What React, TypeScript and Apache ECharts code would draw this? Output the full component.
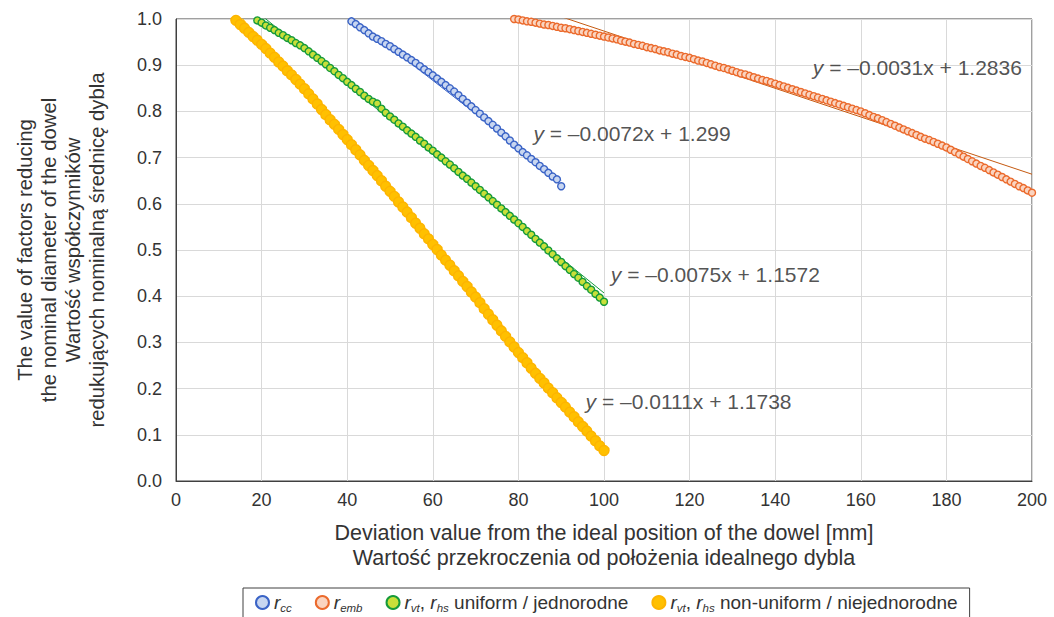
import React, { useEffect, useRef } from "react";
import * as echarts from "echarts";

const FONT = "'Liberation Sans', Arial, sans-serif";

// r_cc
const rcc: [number, number][] = [
  [41, 0.995], [42, 0.989], [43, 0.982], [44, 0.976], [45, 0.969], [46, 0.962], [47, 0.957], [48, 0.952], [49, 0.946], [50, 0.941],
  [51, 0.935], [52, 0.929], [53, 0.923], [54, 0.917], [55, 0.911], [56, 0.905], [57, 0.898], [58, 0.891], [59, 0.885], [60, 0.878],
  [61, 0.871], [62, 0.864], [63, 0.857], [64, 0.85], [65, 0.843], [66, 0.835], [67, 0.827], [68, 0.819], [69, 0.811], [70, 0.803],
  [71, 0.795], [72, 0.787], [73, 0.779], [74, 0.771], [75, 0.763], [76, 0.754], [77, 0.746], [78, 0.737], [79, 0.728], [80, 0.72],
  [81, 0.712], [82, 0.705], [83, 0.697], [84, 0.69], [85, 0.682], [86, 0.675], [87, 0.667], [88, 0.659], [89, 0.653], [90, 0.638],
];

// r_emb
const remb: [number, number][] = [
  [79, 1.0], [80, 0.999], [81, 0.997], [82, 0.995], [83, 0.994], [84, 0.992], [85, 0.99], [86, 0.988], [87, 0.987], [88, 0.985],
  [89, 0.983], [90, 0.981], [91, 0.98], [92, 0.978], [93, 0.976], [94, 0.974], [95, 0.972], [96, 0.97], [97, 0.968], [98, 0.966],
  [99, 0.964], [100, 0.962], [101, 0.96], [102, 0.958], [103, 0.956], [104, 0.953], [105, 0.951], [106, 0.949], [107, 0.946], [108, 0.944],
  [109, 0.942], [110, 0.939], [111, 0.937], [112, 0.935], [113, 0.932], [114, 0.93], [115, 0.928], [116, 0.925], [117, 0.923], [118, 0.92],
  [119, 0.918], [120, 0.916], [121, 0.913], [122, 0.91], [123, 0.908], [124, 0.905], [125, 0.902], [126, 0.899], [127, 0.896], [128, 0.894],
  [129, 0.891], [130, 0.888], [131, 0.885], [132, 0.882], [133, 0.88], [134, 0.877], [135, 0.874], [136, 0.871], [137, 0.868], [138, 0.866],
  [139, 0.863], [140, 0.86], [141, 0.857], [142, 0.854], [143, 0.851], [144, 0.848], [145, 0.845], [146, 0.842], [147, 0.839], [148, 0.836],
  [149, 0.833], [150, 0.83], [151, 0.827], [152, 0.824], [153, 0.821], [154, 0.818], [155, 0.815], [156, 0.812], [157, 0.809], [158, 0.806],
  [159, 0.803], [160, 0.8], [161, 0.796], [162, 0.792], [163, 0.788], [164, 0.785], [165, 0.781], [166, 0.777], [167, 0.773], [168, 0.769],
  [169, 0.765], [170, 0.761], [171, 0.757], [172, 0.753], [173, 0.749], [174, 0.745], [175, 0.741], [176, 0.738], [177, 0.734], [178, 0.73],
  [179, 0.726], [180, 0.722], [181, 0.717], [182, 0.712], [183, 0.707], [184, 0.702], [185, 0.697], [186, 0.692], [187, 0.687], [188, 0.682],
  [189, 0.678], [190, 0.673], [191, 0.668], [192, 0.663], [193, 0.658], [194, 0.653], [195, 0.648], [196, 0.643], [197, 0.638], [198, 0.634],
  [199, 0.629], [200, 0.624],
];

// r_vt, r_hs uniform
const runi: [number, number][] = [
  [19, 0.997], [20, 0.992], [21, 0.986], [22, 0.981], [23, 0.976], [24, 0.97], [25, 0.965], [26, 0.959], [27, 0.954], [28, 0.948],
  [29, 0.943], [30, 0.937], [31, 0.93], [32, 0.923], [33, 0.916], [34, 0.909], [35, 0.902], [36, 0.894], [37, 0.887], [38, 0.879],
  [39, 0.872], [40, 0.864], [41, 0.857], [42, 0.849], [43, 0.842], [44, 0.834], [45, 0.827], [46, 0.821], [47, 0.817], [48, 0.806],
  [49, 0.797], [50, 0.789], [51, 0.782], [52, 0.774], [53, 0.767], [54, 0.759], [55, 0.752], [56, 0.745], [57, 0.737], [58, 0.73],
  [59, 0.722], [60, 0.715], [61, 0.707], [62, 0.7], [63, 0.692], [64, 0.685], [65, 0.677], [66, 0.669], [67, 0.661], [68, 0.654],
  [69, 0.646], [70, 0.638], [71, 0.63], [72, 0.622], [73, 0.614], [74, 0.606], [75, 0.598], [76, 0.59], [77, 0.582], [78, 0.574],
  [79, 0.566], [80, 0.558], [81, 0.55], [82, 0.541], [83, 0.533], [84, 0.524], [85, 0.516], [86, 0.508], [87, 0.499], [88, 0.491],
  [89, 0.482], [90, 0.474], [91, 0.465], [92, 0.457], [93, 0.448], [94, 0.44], [95, 0.431], [96, 0.422], [97, 0.414], [98, 0.405],
  [99, 0.397], [100, 0.388],
];

// r_vt, r_hs non-uniform
const rnon: [number, number][] = [
  [14, 0.997], [15, 0.988], [16, 0.98], [17, 0.971], [18, 0.962], [19, 0.954], [20, 0.945], [21, 0.936], [22, 0.926], [23, 0.917],
  [24, 0.907], [25, 0.898], [26, 0.888], [27, 0.879], [28, 0.869], [29, 0.859], [30, 0.849], [31, 0.838], [32, 0.827], [33, 0.816],
  [34, 0.804], [35, 0.793], [36, 0.782], [37, 0.772], [38, 0.761], [39, 0.75], [40, 0.739], [41, 0.728], [42, 0.717], [43, 0.706],
  [44, 0.694], [45, 0.683], [46, 0.672], [47, 0.661], [48, 0.65], [49, 0.638], [50, 0.627], [51, 0.616], [52, 0.604], [53, 0.593],
  [54, 0.582], [55, 0.57], [56, 0.558], [57, 0.547], [58, 0.535], [59, 0.524], [60, 0.512], [61, 0.501], [62, 0.489], [63, 0.478],
  [64, 0.467], [65, 0.455], [66, 0.444], [67, 0.432], [68, 0.421], [69, 0.409], [70, 0.398], [71, 0.386], [72, 0.373], [73, 0.361],
  [74, 0.349], [75, 0.337], [76, 0.325], [77, 0.313], [78, 0.301], [79, 0.29], [80, 0.278], [81, 0.267], [82, 0.256], [83, 0.244],
  [84, 0.233], [85, 0.222], [86, 0.212], [87, 0.201], [88, 0.191], [89, 0.18], [90, 0.17], [91, 0.16], [92, 0.149], [93, 0.139],
  [94, 0.128], [95, 0.118], [96, 0.108], [97, 0.097], [98, 0.087], [99, 0.076], [100, 0.066],
];

// linear trend lines (endpoints over each series' range)
const trendCC: [number, number][] = [[41, 1.004], [90, 0.651]];
const trendEmb: [number, number][] = [[79, 1.039], [200, 0.664]];
const trendUni: [number, number][] = [[19, 1.015], [100, 0.407]];
const trendNon: [number, number][] = [[14, 1.018], [100, 0.064]];

const equations = [
  "y = –0.0072x + 1.299",
  "y = –0.0031x + 1.2836",
  "y = –0.0075x + 1.1572",
  "y = –0.0111x + 1.1738",
];
const equationAnchors: [number, number][] = [[83.5, 0.753], [148.8, 0.894], [101.6, 0.446], [95.7, 0.171]];

const xTitle = ["Deviation value from the ideal position of the dowel [mm]", "Wartość przekroczenia od położenia idealnego dybla"];
const yTitle = [
  "The value of factors reducing",
  "the nominal diameter of the dowel",
  "Wartość współczynników",
  "redukujących nominalną średnicę dybla",
];

const legendLabels: Record<string, string> = {
  rcc: "{i|r}{s|cc}",
  remb: "{i|r}{s|emb}",
  runi: "{i|r}{s|vt}{t|, }{i|r}{s|hs}{t| uniform / jednorodne}",
  rnon: "{i|r}{s|vt}{t|, }{i|r}{s|hs}{t| non-uniform / niejednorodne}",
};

const styles = {
  rcc: { fill: "#C8D6F0", border: "#3A63C6", size: 7, trend: "#3A63C6" },
  remb: { fill: "#FAD4C0", border: "#EB6A2C", size: 7, trend: "#C55A11" },
  runi: { fill: "#C9DF3A", border: "#159A3A", size: 7, trend: "#159A3A" },
  rnon: { fill: "#FFC000", border: "#FDB400", size: 10, trend: "#FFC000" },
};

const TEXT = "#333333";

export default function App() {
  const ref = useRef<HTMLDivElement>(null);
  useEffect(() => {
    document.body.style.margin = "0";
    if (!ref.current) return;
    const chart = echarts.init(ref.current, undefined, { renderer: "svg" });

    const scatter = (name: string, data: [number, number][], st: any) => ({
      name,
      type: "scatter",
      data,
      symbol: "circle",
      symbolSize: st.size,
      itemStyle: { color: st.fill, borderColor: st.border, borderWidth: 1.4, opacity: 1 },
      z: 3,
    });
    const trend = (data: [number, number][], color: string) => ({
      type: "line",
      data,
      symbol: "none",
      lineStyle: { color, width: 1 },
      silent: true,
      clip: true,
      z: 2,
    });

    chart.setOption({
      animation: false,
      textStyle: { fontFamily: FONT },
      grid: {
        left: 176,
        right: 22,
        top: 19,
        bottom: 136,
        show: true,
        borderColor: "#404040",
        borderWidth: 1,
        containLabel: false,
      },
      xAxis: {
        type: "value",
        min: 0,
        max: 200,
        interval: 20,
        axisLine: { show: true, lineStyle: { color: "#404040", width: 1 } },
        axisTick: { show: false },
        axisLabel: { fontSize: 18, color: TEXT, margin: 10, fontFamily: FONT },
        splitLine: { show: true, lineStyle: { color: "#D9D9D9", width: 1 } },
        name: xTitle.join("\n"),
        nameLocation: "middle",
        nameGap: 39,
        nameTextStyle: { fontSize: 21.5, lineHeight: 25, color: TEXT, fontFamily: FONT },
      },
      yAxis: {
        type: "value",
        min: 0,
        max: 1,
        interval: 0.1,
        axisLine: { show: true, lineStyle: { color: "#404040", width: 1 } },
        axisTick: { show: false },
        axisLabel: {
          fontSize: 18,
          color: TEXT,
          margin: 14,
          fontFamily: FONT,
          formatter: (v: number) => v.toFixed(1),
        },
        splitLine: { show: true, lineStyle: { color: "#D9D9D9", width: 1 } },
        name: yTitle.join("\n"),
        nameLocation: "middle",
        nameRotate: 90,
        nameGap: 67,
        nameTextStyle: { fontSize: 20.3, lineHeight: 24, color: TEXT, fontFamily: FONT },
      },
      legend: {
        data: ["rcc", "remb", "runi", "rnon"],
        left: 243,
        top: 588,
        padding: [5, 12, 14, 12],
        borderColor: "#404040",
        borderWidth: 1,
        icon: "circle",
        itemWidth: 13,
        itemHeight: 13,
        itemGap: 23,
        formatter: (name: string) => legendLabels[name],
        textStyle: {
          fontSize: 19,
          color: TEXT,
          fontFamily: FONT,
          rich: {
            t: { fontSize: 19, color: TEXT, fontFamily: FONT, lineHeight: 22 },
            i: { fontSize: 19, fontStyle: "italic", color: TEXT, fontFamily: FONT, lineHeight: 22 },
            s: { fontSize: 11.5, fontStyle: "italic", color: TEXT, fontFamily: FONT, lineHeight: 12, verticalAlign: "bottom" },
          },
        },
      },
      series: [
        trend(trendCC, styles.rcc.trend),
        trend(trendEmb, styles.remb.trend),
        trend(trendUni, styles.runi.trend),
        trend(trendNon, styles.rnon.trend),
        scatter("rcc", rcc, styles.rcc),
        scatter("remb", remb, styles.remb),
        scatter("runi", runi, styles.runi),
        scatter("rnon", rnon, styles.rnon),
        {
          type: "scatter",
          silent: true,
          symbolSize: 0,
          z: 5,
          data: equationAnchors,
          label: {
            show: true,
            position: "right",
            distance: 0,
            formatter: (p: any) => {
              const e: string = equations[p.dataIndex];
              return "{i|y}{t|" + e.slice(1) + "}";
            },
            rich: {
              i: { fontSize: 21, fontStyle: "italic", color: "#262626", fontFamily: FONT },
              t: { fontSize: 21, color: "#262626", fontFamily: FONT },
            },
          },
        },
      ],
    });
    return () => chart.dispose();
  }, []);
  return <div ref={ref} style={{ width: 1054, height: 617 }} />;
}
